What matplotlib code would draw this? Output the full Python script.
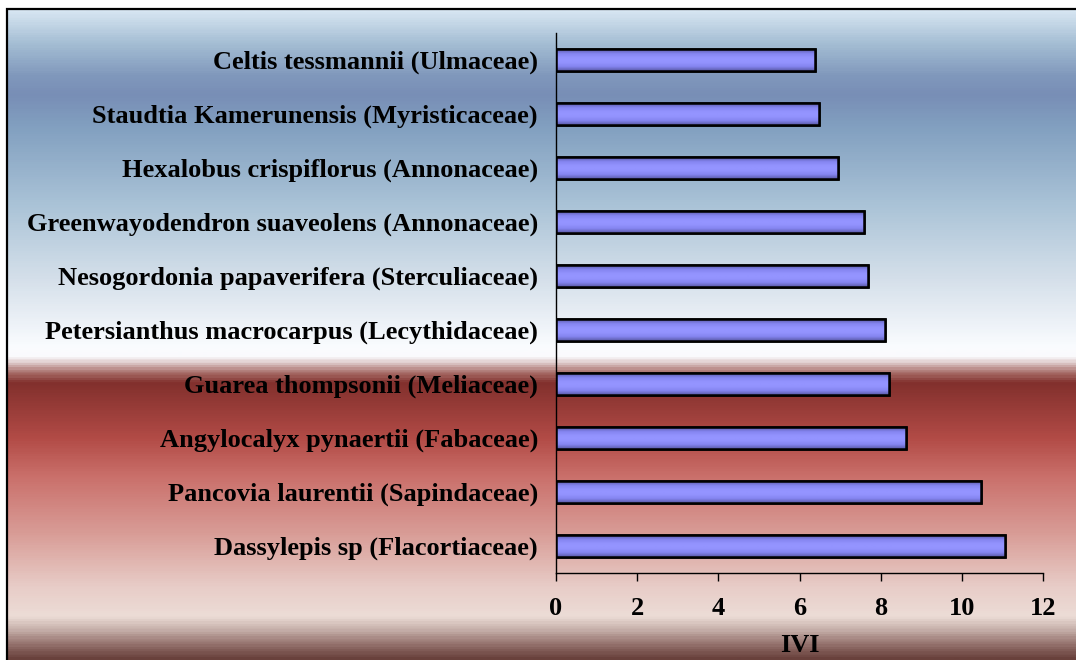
import numpy as np
import matplotlib.pyplot as plt
from matplotlib.colors import LinearSegmentedColormap
from matplotlib.patches import Rectangle

plt.rcParams['font.family'] = ['Liberation Serif', 'DejaVu Serif']

# données (IVI par espèce)
species = [
    'Dassylepis sp (Flacortiaceae)',
    'Pancovia laurentii (Sapindaceae)',
    'Angylocalyx pynaertii (Fabaceae)',
    'Guarea thompsonii (Meliaceae)',
    'Petersianthus macrocarpus (Lecythidaceae)',
    'Nesogordonia papaverifera (Sterculiaceae)',
    'Greenwayodendron suaveolens (Annonaceae)',
    'Hexalobus crispiflorus (Annonaceae)',
    'Staudtia Kamerunensis (Myristicaceae)',
    'Celtis tessmannii (Ulmaceae)',
]
ivi = [11.06, 10.47, 8.62, 8.2, 8.11, 7.69, 7.59, 6.95, 6.47, 6.38]
xticks = [0, 2, 4, 6, 8, 10, 12]

W, H = 1076, 660
fig = plt.figure(figsize=(W / 100, H / 100), dpi=100)

# fond dégradé (bleu -> blanc -> rouge -> rose -> brun)
stops = [
    (0.00, (215, 230, 242)),
    (0.05, (165, 190, 212)),
    (0.10, (128, 152, 188)),
    (0.13, (120, 142, 182)),
    (0.18, (130, 160, 192)),
    (0.30, (170, 195, 215)),
    (0.42, (215, 225, 235)),
    (0.52, (250, 252, 255)),
    (0.535, (250, 250, 252)),
    (0.56, (165, 105, 100)),
    (0.575, (130, 48, 45)),
    (0.66, (178, 75, 70)),
    (0.72, (202, 112, 107)),
    (0.81, (217, 158, 152)),
    (0.89, (232, 205, 200)),
    (0.935, (236, 220, 214)),
    (0.955, (200, 178, 172)),
    (0.98, (145, 110, 105)),
    (1.00, (105, 65, 60)),
]
bg_cmap = LinearSegmentedColormap.from_list(
    'bg', [(p, tuple(c / 255 for c in rgb)) for p, rgb in stops])
bg = fig.add_axes([7 / W, 0, 1 - 7 / W, (H - 9) / H], zorder=-10)
bg.imshow(np.linspace(0, 1, 600).reshape(-1, 1), aspect='auto', cmap=bg_cmap,
          extent=[0, 1, 0, 1], origin='upper')
bg.axis('off')

# cadre
fig.patches.append(Rectangle((7 / W, -0.05), 1.2, (H - 9) / H + 0.05,
                             transform=fig.transFigure, fill=False,
                             edgecolor='black', linewidth=1.6))

ax = fig.add_axes([556 / W, 87 / H, (1043 - 556) / W, (573 - 33) / H])
ax.patch.set_alpha(0)

y = np.arange(len(species))
bars = ax.barh(y, ivi, height=0.4, color='#9090ff', edgecolor='black',
               linewidth=1.8, zorder=3)

# dégradé dans les barres
bar_cmap = LinearSegmentedColormap.from_list(
    'bar', ['#5a5aa8', '#8585f0', '#9494ff', '#9494ff', '#8585f0', '#5a5aa8'])
grad = np.linspace(0, 1, 50).reshape(-1, 1)
for b in bars:
    x0, y0 = b.get_x(), b.get_y()
    im = ax.imshow(grad, aspect='auto', cmap=bar_cmap,
                   extent=[x0, x0 + b.get_width(), y0, y0 + b.get_height()],
                   zorder=3.5)
    im.set_clip_path(b)
    edge = Rectangle((x0, y0), b.get_width(), b.get_height(), fill=False,
                     edgecolor='black', linewidth=1.8, zorder=4)
    ax.add_patch(edge)

ax.set_xlim(0, 12)
ax.set_ylim(-0.5, len(species) - 0.5)
ax.set_xticks(xticks)
ax.set_xticklabels([str(t) for t in xticks], fontsize=19, fontweight='bold')
ax.set_yticks(y)
ax.set_yticklabels(species, fontsize=19, fontweight='bold')
ax.tick_params(axis='y', length=0, pad=13)
ax.tick_params(axis='x', length=6, width=1, direction='out', pad=11)
ax.set_xlabel('IVI', fontsize=19, fontweight='bold', labelpad=10)

for s in ['top', 'right']:
    ax.spines[s].set_visible(False)
ax.spines['left'].set_linewidth(1)
ax.spines['bottom'].set_linewidth(1)

fig.savefig('out.png', dpi=100)
